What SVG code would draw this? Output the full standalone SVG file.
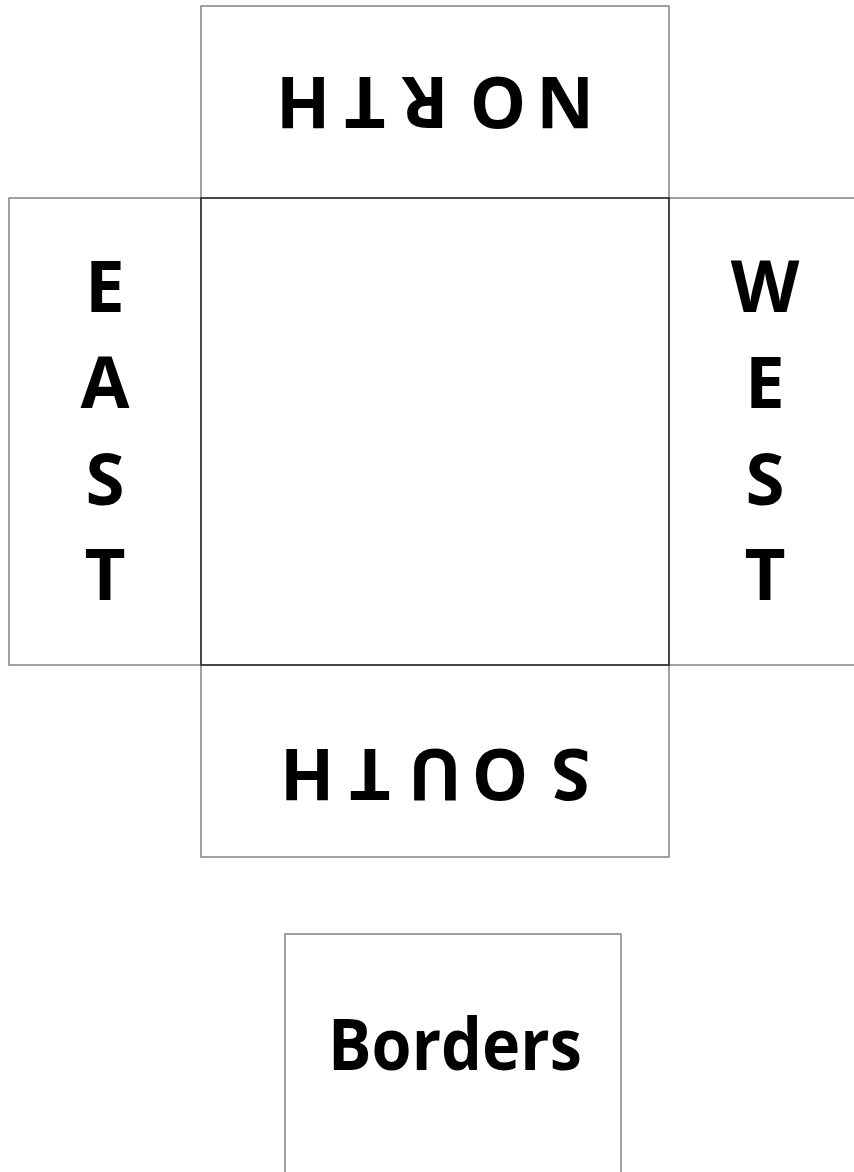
<svg xmlns="http://www.w3.org/2000/svg" width="854" height="1172" viewBox="0 0 854 1172">
<style>
.box{fill:#fff;stroke:#6f6f6f;stroke-width:1.3}
.core{fill:none;stroke:#1a1a1a;stroke-width:1.3}
.lbl{font-family:"Open Sans",Lato,"Liberation Sans",sans-serif;font-weight:bold;font-size:71px;fill:#000;text-anchor:middle}
</style>
<rect width="854" height="1172" fill="#fff"/>
<g id="north">
<rect class="box" x="201" y="6" width="468" height="192"/>
<text class="lbl" transform="rotate(180 435 102.5)" x="305 372 445 505 567" y="128">NORTH</text>
</g>
<g id="east">
<rect class="box" x="9" y="198" width="192" height="467"/>
<text class="lbl" x="105" y="312">E</text>
<text class="lbl" x="105" y="408">A</text>
<text class="lbl" x="105" y="505">S</text>
<text class="lbl" x="105" y="600">T</text>
</g>
<g id="west">
<rect class="box" x="669" y="198" width="200" height="467"/>
<text class="lbl" x="765" y="312">W</text>
<text class="lbl" x="765" y="408">E</text>
<text class="lbl" x="765" y="505">S</text>
<text class="lbl" x="765" y="600">T</text>
</g>
<g id="south">
<rect class="box" x="201" y="665" width="468" height="192"/>
<text class="lbl" transform="rotate(180 435 775.5)" x="299 370 435 500 563" y="802">SOUTH</text>
</g>
<g id="center">
<rect class="core" x="201" y="198" width="468" height="467"/>
</g>
<g id="borders">
<rect class="box" x="285" y="934" width="336" height="260"/>
<text class="lbl" x="455" y="1070" textLength="254" lengthAdjust="spacingAndGlyphs">Borders</text>
</g>
<g id="connectors"></g>
</svg>
